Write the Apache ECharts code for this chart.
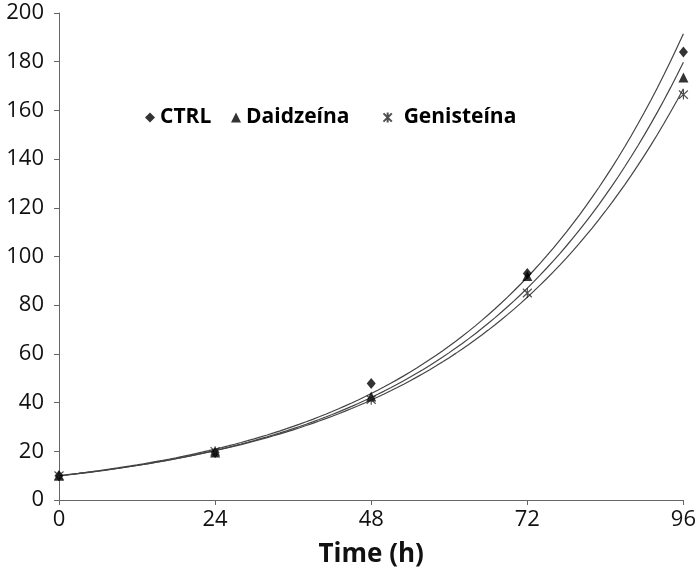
<!DOCTYPE html>
<html>
<head>
<meta charset="utf-8">
<script src="https://cdn.jsdelivr.net/npm/echarts@6/dist/echarts.min.js"></script>
<style>html,body{margin:0;padding:0;background:#fff;}#chart{width:699px;height:582px;}</style>
</head>
<body>
<div id="chart"></div>
<script>
const hours = [0, 24, 48, 72, 96];
const xTicks = [0, 24, 48, 72, 96];
const seriesNames = ['CTRL', 'Daidzeína', 'Genisteína'];
const ctrl = [10, 19.5, 47.8, 93, 184];
const daidzeina = [10, 19.5, 42.5, 92, 173.5];
const genisteina = [10, 20, 41.2, 85, 166.5];

// Exponential trendline (least squares on ln y), as in a spreadsheet trendline
function expFit(xs, ys) {
  const n = xs.length;
  const lx = xs.reduce((a, b) => a + b, 0) / n;
  const ly = ys.map(Math.log);
  const my = ly.reduce((a, b) => a + b, 0) / n;
  let sxy = 0, sxx = 0;
  for (let i = 0; i < n; i++) { sxy += (xs[i] - lx) * (ly[i] - my); sxx += (xs[i] - lx) ** 2; }
  const b = sxy / sxx, a = Math.exp(my - b * lx);
  const pts = [];
  for (let x = 0; x <= 96; x += 1) pts.push([x, a * Math.exp(b * x)]);
  return pts;
}
const pairs = v => hours.map((h, i) => [h, v[i]]);
const starPath = 'path://M0,0L10,10M10,0L0,10M5,-1L5,11';
const font = '"Open Sans", "DejaVu Sans", sans-serif';

const chart = echarts.init(document.getElementById('chart'));
const lineStyle = { color: '#444', width: 1.2 };
const trend = (d) => ({ type: 'line', data: expFit(hours, d), showSymbol: false, symbol: 'none', lineStyle, silent: true, z: 1 });
const legendText = (pad) => ({ fontFamily: font, fontWeight: 'bold', fontSize: 21, color: '#000', padding: [0, 0, 0, pad] });
const mkLegend = (name, left, pad) => ({
  data: [name], left: left, top: 107, itemWidth: 10, itemHeight: 10, padding: 0,
  textStyle: legendText(pad)
});

chart.setOption({
  animation: false,
  backgroundColor: '#fff',
  grid: { left: 59, right: 15, top: 13, bottom: 82 },
  legend: [
    mkLegend(seriesNames[0], 145, 0),
    mkLegend(seriesNames[1], 231, 0),
    mkLegend(seriesNames[2], 381, 6)
  ],
  xAxis: {
    type: 'value', min: 0, max: 96, interval: 24,
    name: 'Time (h)', nameLocation: 'middle', nameGap: 42,
    nameTextStyle: { fontFamily: font, fontWeight: 'bold', fontSize: 26, color: '#111' },
    axisLine: { lineStyle: { color: '#666', width: 1 } },
    axisTick: { show: true, length: 5, lineStyle: { color: '#666' } },
    axisLabel: { fontFamily: font, fontSize: 22, color: '#111', margin: 9,
      formatter: v => xTicks.includes(v) ? String(v) : '' },
    splitLine: { show: false }
  },
  yAxis: {
    type: 'value', min: 0, max: 200, interval: 20,
    axisLine: { show: true, lineStyle: { color: '#666', width: 1 } },
    axisTick: { show: true, length: 5, lineStyle: { color: '#666' } },
    axisLabel: { fontFamily: font, fontSize: 22, color: '#111', margin: 15 },
    splitLine: { show: false }
  },
  series: [
    trend(ctrl), trend(daidzeina), trend(genisteina),
    { name: seriesNames[0], type: 'scatter', data: pairs(ctrl), symbol: 'diamond', symbolSize: [9, 11],
      itemStyle: { color: '#000' }, z: 3 },
    { name: seriesNames[1], type: 'scatter', data: pairs(daidzeina), symbol: 'triangle', symbolSize: [10, 10],
      itemStyle: { color: '#000' }, z: 3 },
    { name: seriesNames[2], type: 'scatter', data: pairs(genisteina), symbol: starPath, symbolSize: [9, 10],
      itemStyle: { color: 'none', borderColor: '#222', borderWidth: 1.2 }, z: 3 }
  ]
});
</script>
</body>
</html>
